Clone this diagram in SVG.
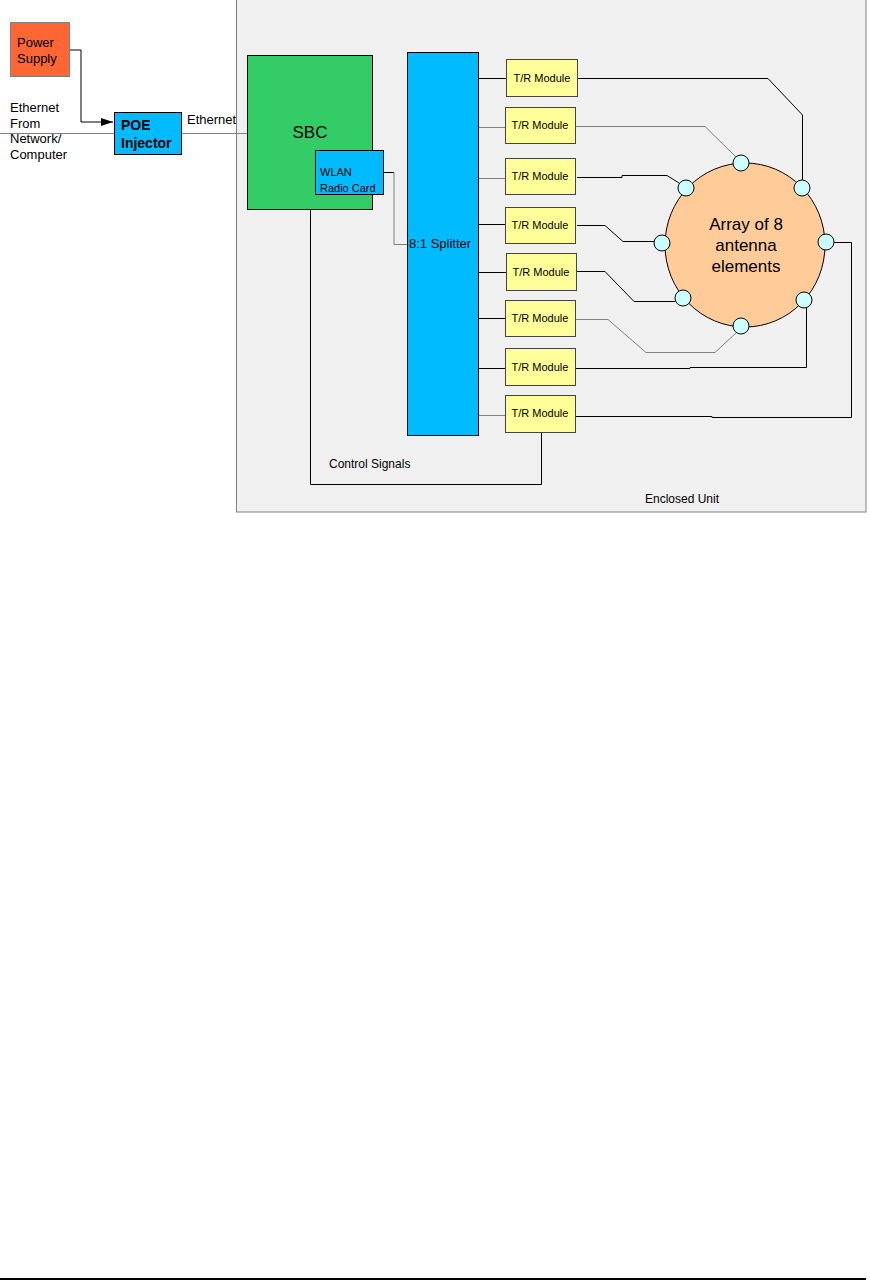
<svg xmlns="http://www.w3.org/2000/svg" width="870" height="1280" viewBox="0 0 870 1280">
<style>
text{font-family:"Liberation Sans",Arial,sans-serif;fill:#000}
.tr rect{fill:#ffff99;stroke:#444;stroke-width:1}
.tr text{font-size:11px;text-anchor:middle}
.ant{fill:#ccffff;stroke:#000;stroke-width:1}
.w{fill:none;stroke:#000;stroke-width:1}
.g{fill:none;stroke:#808080;stroke-width:1}
</style>
<defs>
<marker id="arr" markerWidth="12" markerHeight="8" refX="12" refY="4" orient="auto" markerUnits="userSpaceOnUse">
<path d="M0,0 L12,4 L0,8 Z" fill="#000"/>
</marker>
</defs>
<rect width="870" height="1280" fill="#fff"/>
<g id="enclosed-unit">
<rect x="236.5" y="-1" width="629.5" height="513" fill="#f0f0f0" stroke="#808080"/>
<text x="645" y="503" font-size="12">Enclosed Unit</text>
</g>
<g id="connectors">
<path class="w" d="M69,50 H81 V122 H113" marker-end="url(#arr)"/>
<path class="g" d="M0,133.5 H248"/>
<path class="w" d="M383,172.5 H394"/>
<path class="g" d="M394,172.5 V244.5 H407"/>
<path class="w" d="M310.5,209 V484.5 H541.5 V432"/>
<path class="w" d="M478,78.5 H506"/>
<path class="g" d="M478,127.5 H505"/>
<path class="g" d="M478,178.5 H505"/>
<path class="w" d="M478,224.5 H505"/>
<path class="w" d="M478,272.5 H506"/>
<path class="w" d="M478,318.5 H505"/>
<path class="w" d="M478,368.5 H505"/>
<path class="g" d="M478,415.5 H505"/>
<path class="w" d="M577,78.5 H768 L802.5,115 V180"/>
<path class="g" d="M576,126.5 H705 L736,157"/>
<path class="w" d="M577,177.5 H622 V175.5 H667 L679,183"/>
<path class="w" d="M577,225.5 H605 L623,241.5 H654"/>
<path class="w" d="M577,271.5 H605 L634,301.5 H675"/>
<path class="g" d="M576,319.5 H608 L646,352.5 H715 L736,333"/>
<path class="w" d="M576,368.5 H690 V367.5 H806.5 V308"/>
<path class="w" d="M576,416.5 H712 V417.5 H851.5 V242.5 H834"/>
</g>
<g id="power-supply">
<rect x="10.5" y="22.5" width="59" height="54" fill="#ff6633" stroke="#808080"/>
<text x="17" y="47" font-size="13">Power</text>
<text x="17" y="63" font-size="13">Supply</text>
</g>
<g id="ethernet-source">
<text x="10" y="112" font-size="13" fill="#222">Ethernet</text>
<text x="10" y="128" font-size="13" fill="#222">From</text>
<text x="10" y="143" font-size="13" fill="#222">Network/</text>
<text x="10" y="159" font-size="13" fill="#222">Computer</text>
</g>
<g id="poe-injector">
<rect x="114.5" y="112.5" width="67" height="42" fill="#00bbff" stroke="#000"/>
<text x="121" y="130" font-size="14" font-weight="bold">POE</text>
<text x="121" y="148" font-size="14" font-weight="bold">Injector</text>
</g>
<text x="187" y="124" font-size="13">Ethernet</text>
<g id="sbc">
<rect x="247.5" y="55.5" width="125" height="154" fill="#33cc66" stroke="#000"/>
<text x="310" y="138" font-size="17" text-anchor="middle">SBC</text>
</g>
<g id="wlan-card">
<rect x="315.5" y="150.5" width="68" height="44" fill="#00bbff" stroke="#000"/>
<text x="320" y="176" font-size="11">WLAN</text>
<text x="320" y="192" font-size="11">Radio Card</text>
</g>
<g id="splitter">
<rect x="407.5" y="52.5" width="71" height="383" fill="#00bbff" stroke="#000"/>
<text x="409" y="248" font-size="13">8:1 Splitter</text>
</g>
<g id="tr1" class="tr"><rect x="506.5" y="59.5" width="71" height="37"/><text x="542" y="82">T/R Module</text></g>
<g id="tr2" class="tr"><rect x="505.5" y="107.5" width="70" height="36"/><text x="540" y="129">T/R Module</text></g>
<g id="tr3" class="tr"><rect x="505.5" y="158.5" width="70" height="36"/><text x="540" y="180">T/R Module</text></g>
<g id="tr4" class="tr"><rect x="505.5" y="207.5" width="70" height="36"/><text x="540" y="229">T/R Module</text></g>
<g id="tr5" class="tr"><rect x="506.5" y="253.5" width="70" height="37"/><text x="541" y="276">T/R Module</text></g>
<g id="tr6" class="tr"><rect x="505.5" y="300.5" width="70" height="36"/><text x="540" y="322">T/R Module</text></g>
<g id="tr7" class="tr"><rect x="505.5" y="348.5" width="70" height="37"/><text x="540" y="371">T/R Module</text></g>
<g id="tr8" class="tr"><rect x="505.5" y="395.5" width="70" height="37"/><text x="540" y="417">T/R Module</text></g>
<g id="antenna-array">
<ellipse cx="745" cy="245" rx="80" ry="82" fill="#ffcc99" stroke="#000"/>
<text x="746" y="230" font-size="17" text-anchor="middle">Array of 8</text>
<text x="746" y="251" font-size="17" text-anchor="middle">antenna</text>
<text x="746" y="272" font-size="17" text-anchor="middle">elements</text>
<circle class="ant" cx="741" cy="163" r="8"/>
<circle class="ant" cx="686" cy="188" r="8"/>
<circle class="ant" cx="802" cy="188" r="8"/>
<circle class="ant" cx="662" cy="243" r="8"/>
<circle class="ant" cx="826" cy="242" r="8"/>
<circle class="ant" cx="683" cy="298" r="8"/>
<circle class="ant" cx="741" cy="326" r="8"/>
<circle class="ant" cx="804" cy="300" r="8"/>
</g>
<text x="329" y="468" font-size="12">Control Signals</text>
<path d="M0,1279 H866" stroke="#000" stroke-width="2"/>
</svg>
